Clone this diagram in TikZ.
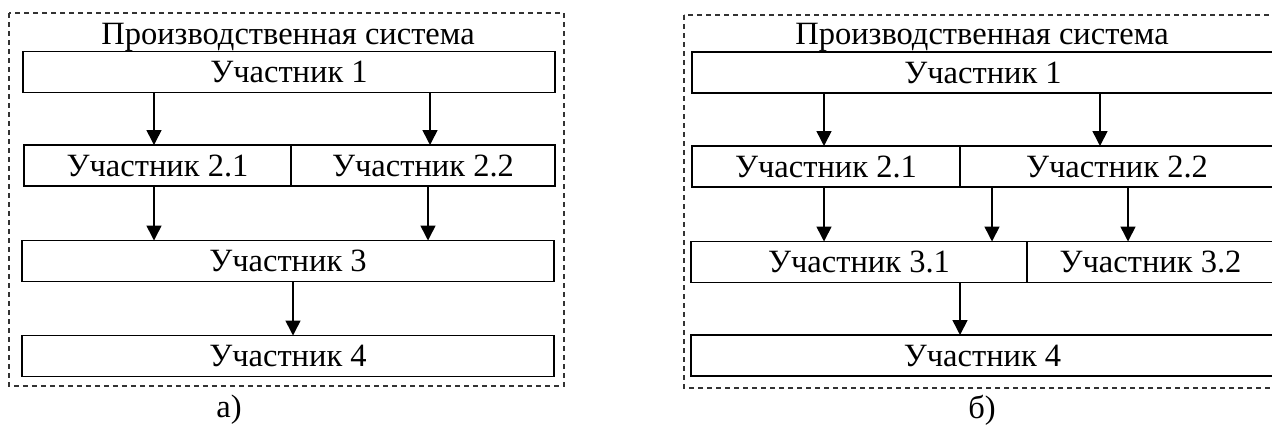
\documentclass[tikz,border=0pt]{standalone}
\usepackage{fontspec}
\setmainfont{Liberation Serif}
\usepackage{tikz}
\usetikzlibrary{positioning}
\usetikzlibrary{arrows.meta}

\begin{document}
\begin{tikzpicture}
    [
    font=\fontsize{18.5}{21}\selectfont,
    cell/.style={rectangle,draw,line width=0.9pt,inner sep=0pt,outer sep=0pt,minimum height=0.82cm},
    arr/.style={-{Triangle[length=3mm,width=3mm]},line width=0.9pt},
    frame/.style={draw=black!80,dashed,dash pattern=on 1mm off 0.8mm,line width=0.7pt},
    ]
    \useasboundingbox (0,0) rectangle (25.44,-8.54);

    % a)
    \draw [frame] (0.18,-0.26) rectangle (11.28,-7.72);
    \node (ta) at (5.76,-0.88) [anchor=base] {Производственная система};
    \node (a1) at (5.78,-1.44) [cell, minimum width=10.64cm] {Участник 1};
    \node (a21) at (3.15,-3.31) [cell, minimum width=5.34cm] {Участник 2.1};
    \node (a22) [cell, minimum width=5.28cm, right=0pt of a21] {Участник 2.2};
    \node (a3) at (5.76,-5.22) [cell, minimum width=10.64cm] {Участник 3};
    \node (a4) at (5.76,-7.12) [cell, minimum width=10.64cm] {Участник 4};
    \node (la) at (4.58,-8.2) {а)};
    \coordinate (xa1) at (3.08,0);
    \coordinate (xa2) at (8.6,0);
    \coordinate (xa3) at (8.56,0);
    \coordinate (xa4) at (5.86,0);
    \draw [arr] (a1.south -| xa1) to (a21.north -| xa1);
    \draw [arr] (a1.south -| xa2) to (a22.north -| xa2);
    \draw [arr] (a21.south -| xa1) to (a3.north -| xa1);
    \draw [arr] (a22.south -| xa3) to (a3.north -| xa3);
    \draw [arr] (a3.south -| xa4) to (a4.north -| xa4);

    % b)
    \draw [frame] (13.68,-0.30) rectangle (25.66,-7.76);
    \node (tb) at (19.64,-0.88) [anchor=base] {Производственная система};
    \node (b1) at (19.66,-1.45) [cell, minimum width=11.64cm] {Участник 1};
    \node (b21) at (16.52,-3.33) [cell, minimum width=5.36cm] {Участник 2.1};
    \node (b22) [cell, minimum width=6.28cm, right=0pt of b21] {Участник 2.2};
    \node (b31) at (17.18,-5.24) [cell, minimum width=6.72cm] {Участник 3.1};
    \node (b32) [cell, minimum width=4.94cm, right=0pt of b31] {Участник 3.2};
    \node (b4) at (19.65,-7.11) [cell, minimum width=11.66cm] {Участник 4};
    \node (lb) at (19.64,-8.2) {б)};
    \coordinate (xb1) at (16.48,0);
    \coordinate (xb2) at (22.0,0);
    \coordinate (xb3) at (19.84,0);
    \coordinate (xb4) at (22.56,0);
    \coordinate (xb5) at (19.2,0);
    \draw [arr] (b1.south -| xb1) to (b21.north -| xb1);
    \draw [arr] (b1.south -| xb2) to (b22.north -| xb2);
    \draw [arr] (b21.south -| xb1) to (b31.north -| xb1);
    \draw [arr] (b22.south -| xb3) to (b31.north -| xb3);
    \draw [arr] (b22.south -| xb4) to (b32.north -| xb4);
    \draw [arr] (b31.south -| xb5) to (b4.north -| xb5);
  \end{tikzpicture}
\end{document}
